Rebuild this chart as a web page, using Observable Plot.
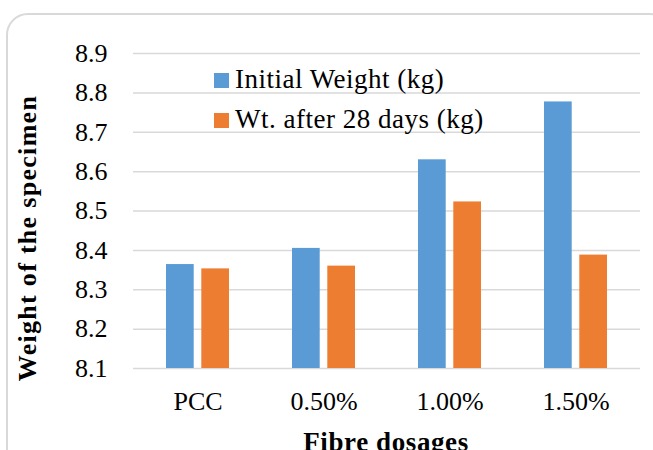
<!DOCTYPE html>
<html>
<head>
<meta charset="utf-8">
<script src="https://cdn.jsdelivr.net/npm/d3@7"></script>
<script src="https://cdn.jsdelivr.net/npm/@observablehq/plot@0.6"></script>
<style>
  html, body { margin: 0; padding: 0; background: #fff; overflow: hidden; }
  #wrap { position: relative; width: 653px; height: 450px; font-family: "Liberation Serif", serif; color: #000; }
  #frame { position: absolute; left: 6px; top: 13px; width: 666px; height: 470px; border: 2px solid #d9d9d9; border-radius: 22px; box-sizing: border-box; }
  #chart { position: absolute; left: 0; top: 0; }
  .lg-sq { position: absolute; width: 15px; height: 15px; }
  .lg-tx { position: absolute; font-size: 27px; line-height: 1; white-space: nowrap; letter-spacing: 0.5px; }
  #ylab { position: absolute; left: 28px; top: 238px; transform: translate(-50%, -50%) rotate(-90deg); font-weight: bold; font-size: 26px; line-height: 1; white-space: nowrap; letter-spacing: 1.3px; }
  #xlab { position: absolute; left: 386px; top: 429px; transform: translateX(-50%); font-weight: bold; font-size: 27px; line-height: 1; white-space: nowrap; letter-spacing: 0.6px; }
</style>
</head>
<body>
<div id="wrap">
  <div id="frame"></div>
  <div id="chart"></div>
  <div id="legend"></div>
  <div id="ylab">Weight of the specimen</div>
  <div id="xlab">Fibre dosages</div>
</div>
<script>
const categories = ["PCC", "0.50%", "1.00%", "1.50%"];
const initialWeight = [8.364, 8.405, 8.630, 8.777];
const weightAfter28 = [8.353, 8.360, 8.523, 8.388];
const yTicks = [8.1, 8.2, 8.3, 8.4, 8.5, 8.6, 8.7, 8.8, 8.9];
const seriesNames = ["Initial Weight (kg)", "Wt. after 28 days (kg)"];
const seriesColors = ["#5B9BD5", "#ED7D31"];

const initialData = categories.map((c, i) => ({category: c, value: initialWeight[i]}));
const afterData = categories.map((c, i) => ({category: c, value: weightAfter28[i]}));

const plot = Plot.plot({
  width: 653,
  height: 450,
  marginLeft: 133,
  marginRight: 13,
  marginTop: 53,
  marginBottom: 82,
  style: {fontFamily: "Liberation Serif, serif", fontSize: "26px", color: "#000", background: "transparent", overflow: "visible"},
  x: {type: "band", domain: categories, paddingInner: 0.5, paddingOuter: 0.25, tickSize: 0, tickPadding: 23, label: null},
  y: {domain: [8.1, 8.9], ticks: yTicks, tickFormat: d3.format(".1f"), tickSize: 0, tickPadding: 26, label: null},
  marks: [
    Plot.ruleY(yTicks, {stroke: "#d9d9d9", strokeWidth: 1.5}),
    Plot.barY(initialData, {x: "category", y1: 8.1, y2: "value", fill: seriesColors[0], insetRight: 35.3}),
    Plot.barY(afterData, {x: "category", y1: 8.1, y2: "value", fill: seriesColors[1], insetLeft: 35.3})
  ]
});
document.getElementById("chart").appendChild(plot);

const legend = document.getElementById("legend");
const rows = [{sqTop: 73, txTop: 66}, {sqTop: 113, txTop: 106}];
seriesNames.forEach((name, i) => {
  const sq = document.createElement("div");
  sq.className = "lg-sq";
  sq.style.left = "214px";
  sq.style.top = rows[i].sqTop + "px";
  sq.style.background = seriesColors[i];
  legend.appendChild(sq);
  const tx = document.createElement("div");
  tx.className = "lg-tx";
  tx.style.left = "235px";
  tx.style.top = rows[i].txTop + "px";
  tx.textContent = name;
  legend.appendChild(tx);
});
</script>
</body>
</html>
